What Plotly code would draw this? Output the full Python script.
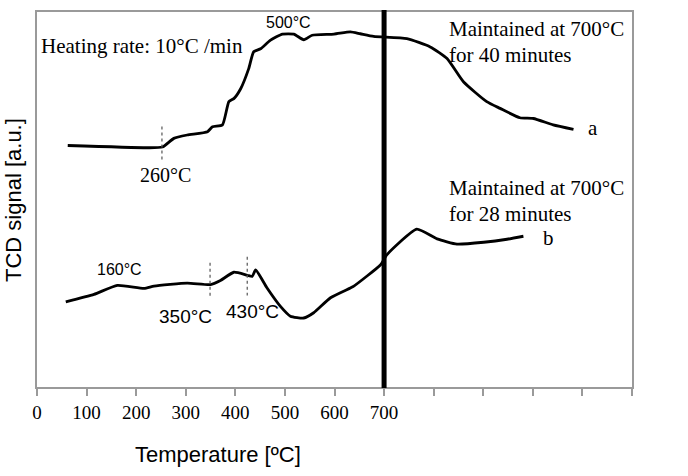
import plotly.graph_objects as go

# ---- data ----
temp_a = [62, 223, 253, 276, 303, 344, 354, 374, 387, 397, 411, 427, 437, 451, 471, 495,
          518, 538, 555, 599, 632, 652, 679, 746, 793, 827, 860, 907, 934, 974, 1001, 1041, 1082]
tcd_a = [64.4, 63.8, 64.0, 66.3, 67.2, 68.1, 69.4, 69.9, 76.1, 76.9, 79.6, 84.9, 89.4, 90.2, 92.5, 94.1,
         94.1, 92.6, 93.8, 94.1, 94.7, 94.2, 93.5, 92.9, 90.7, 87.6, 81.4, 76.1, 74.3, 71.8, 71.6, 69.9, 68.7]

temp_b = [58, 115, 162, 216, 236, 303, 350, 370, 397, 424, 434, 441, 464, 491, 511, 538,
          558, 592, 632, 639, 693, 706, 766, 807, 847, 901, 948, 981]
tcd_b = [22.7, 24.7, 27.1, 26.3, 26.9, 27.7, 27.3, 28.4, 30.6, 29.8, 29.5, 31.2, 26.4, 21.5, 18.9, 18.4,
         19.8, 23.8, 26.4, 26.9, 32.6, 35.3, 42.1, 39.5, 38.1, 38.6, 39.4, 40.2]

hold_temp = 700
x_ticks = list(range(0, 1201, 100))
x_ticklabels = [str(v) if v <= 700 else "" for v in x_ticks]

# dotted marker temperatures
marks_a = [252]
marks_b = [349, 424]

# ---- geometry helpers (pixel -> data / paper) ----
L, R, T, B = 37, 632, 10, 387
XMAX, YMAX = 1200, 100


def ppx(px):
    return (px - L) / (R - L)


def ppy(py):
    return (B - py) / (B - T)


fig = go.Figure()
for xs, ys in [(temp_a, tcd_a), (temp_b, tcd_b)]:
    fig.add_trace(go.Scatter(x=xs, y=ys, mode="lines",
                             line=dict(color="black", width=2.8, shape="spline", smoothing=0.5),
                             showlegend=False, hoverinfo="skip"))

# thick vertical line at the holding temperature
fig.add_shape(type="line", x0=hold_temp, x1=hold_temp, y0=ppy(8), y1=ppy(388),
              xref="x", yref="paper", line=dict(color="black", width=5))

# dotted markers
for t, (y0p, y1p) in zip(marks_a, [(125, 160)]):
    fig.add_shape(type="line", x0=t, x1=t, y0=ppy(y0p), y1=ppy(y1p), xref="x", yref="paper",
                  line=dict(color="#555555", width=1.2, dash="dot"))
for t, (y0p, y1p) in zip(marks_b, [(262, 298), (256, 295)]):
    fig.add_shape(type="line", x0=t, x1=t, y0=ppy(y0p), y1=ppy(y1p), xref="x", yref="paper",
                  line=dict(color="#555555", width=1.2, dash="dot"))

serif = "Liberation Serif"
sans = "Liberation Sans"


def ann(text, px, py, size, family, xanchor="center", angle=0):
    fig.add_annotation(x=ppx(px), y=ppy(py), xref="paper", yref="paper", text=text,
                       showarrow=False, xanchor=xanchor, yanchor="middle", textangle=angle,
                       font=dict(family=family, size=size, color="black"))


ann("Heating rate: 10°C /min", 39, 44, 21, serif, "left")
ann("500°C", 288, 21, 16, sans)
ann("260°C", 165, 174, 20, serif)
ann("Maintained at 700°C", 447, 27, 21, serif, "left")
ann("for 40 minutes", 447, 53, 21, serif, "left")
ann("a", 586, 127, 21, serif, "left")
ann("Maintained at 700°C", 447, 187, 21, serif, "left")
ann("for 28 minutes", 447, 213, 21, serif, "left")
ann("b", 541, 237, 21, serif, "left")
ann("160°C", 119, 269, 16, sans)
ann("350°C", 185, 316, 19, sans)
ann("430°C", 252, 311, 19, sans)

# axis titles
ann("Temperature [ºC]", 218, 455, 22, sans)
ann("TCD signal [a.u.]", 14, 199, 22, sans, angle=-90)

fig.update_layout(
    width=688, height=476,
    margin=dict(l=L, r=688 - R, t=T, b=476 - B, pad=0),
    paper_bgcolor="white", plot_bgcolor="white",
    xaxis=dict(range=[0, XMAX], tickvals=x_ticks, ticktext=x_ticklabels,
               ticks="outside", ticklen=7, tickcolor="#9a9a9a", tickwidth=1.5,
               showline=True, linecolor="#9a9a9a", linewidth=1.5, mirror=True,
               showgrid=False, zeroline=False,
               tickfont=dict(family=serif, size=19, color="black")),
    yaxis=dict(range=[0, YMAX], showticklabels=False, ticks="",
               showline=True, linecolor="#9a9a9a", linewidth=1.5, mirror=True,
               showgrid=False, zeroline=False),
)

fig.write_html("out.html")
